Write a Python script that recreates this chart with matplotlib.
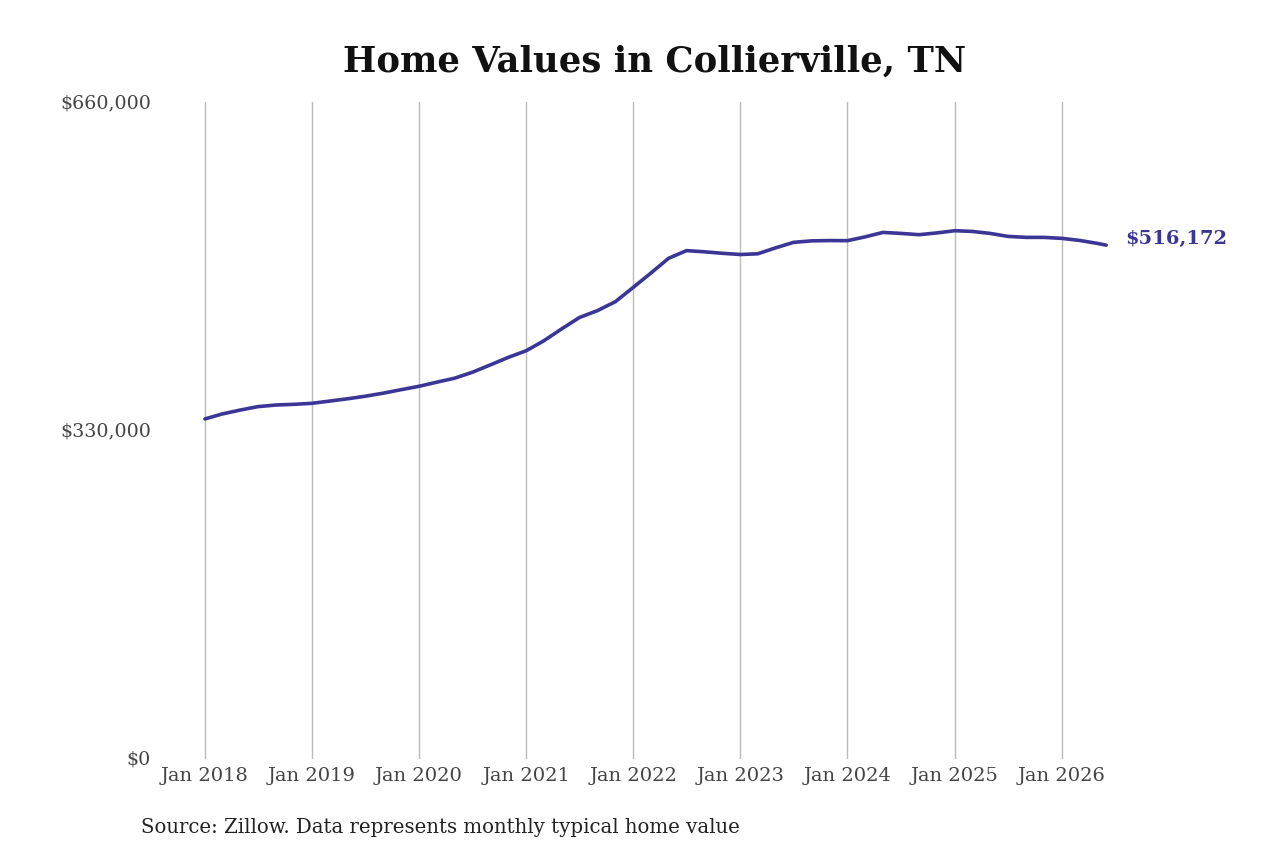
import pandas as pd
import matplotlib
matplotlib.use('Agg')
import matplotlib.pyplot as plt
import matplotlib.dates as mdates
from matplotlib.ticker import FuncFormatter

# values (roughly every two months)
dates = ['2018-01', '2018-03', '2018-05', '2018-07', '2018-09', '2018-11',
         '2019-01', '2019-03', '2019-05', '2019-07', '2019-09', '2019-11',
         '2020-01', '2020-03', '2020-05', '2020-07', '2020-09', '2020-11',
         '2021-01', '2021-03', '2021-05', '2021-07', '2021-09', '2021-11',
         '2022-01', '2022-03', '2022-05', '2022-07', '2022-09', '2022-11',
         '2023-01', '2023-03', '2023-05', '2023-07', '2023-09', '2023-11',
         '2024-01', '2024-03', '2024-05', '2024-07', '2024-09', '2024-11',
         '2025-01', '2025-03', '2025-05', '2025-07', '2025-09', '2025-11',
         '2026-01', '2026-03', '2026-05', '2026-06']
values = [341600, 346600, 350500, 354000, 355600, 356300,
          357300, 359500, 361800, 364400, 367500, 371000,
          374400, 378500, 382500, 388500, 396000, 403500,
          410200, 420000, 432000, 443500, 450500, 459500,
          473900, 488000, 503000, 510700, 509500, 508000,
          506800, 507500, 513500, 519000, 520500, 520800,
          520700, 524500, 529000, 528000, 526700, 528500,
          530700, 530000, 528000, 525000, 524000, 524000,
          523000, 521000, 518000, 516172]
tick_years = [2018, 2019, 2020, 2021, 2022, 2023, 2024, 2025, 2026]
y_ticks = [0, 330000, 660000]

line_color = '#3b3596'
x = pd.to_datetime(dates)

plt.rcParams['font.family'] = ['DejaVu Serif']

fig = plt.figure(figsize=(12.8, 8.53), dpi=100)
ax = fig.add_axes([160 / 1280, 93 / 853, 950 / 1280, 657 / 853])

ax.plot(x, values, color=line_color, linewidth=2.6,
        solid_capstyle='round', solid_joinstyle='round')

ax.set_ylim(0, 660000)
ax.set_xlim(pd.Timestamp('2018-01-01') - pd.Timedelta(days=153),
            pd.Timestamp('2026-01-01') + pd.Timedelta(days=164))

ax.set_yticks(y_ticks)
ax.yaxis.set_major_formatter(FuncFormatter(lambda v, p: '${:,.0f}'.format(v)))
ax.set_xticks([pd.Timestamp(f'{y}-01-01') for y in tick_years])
ax.xaxis.set_major_formatter(mdates.DateFormatter('Jan %Y'))

ax.grid(axis='x', color='#bbbbbb', linewidth=1)
ax.set_axisbelow(True)
for s in ax.spines.values():
    s.set_visible(False)
ax.tick_params(axis='both', length=0, labelsize=14, labelcolor='#444444')
ax.tick_params(axis='y', pad=6.5, labelsize=13.7)
ax.tick_params(axis='x', pad=5)
for lbl in ax.get_yticklabels():
    lbl.set_verticalalignment('center')

ax.annotate('${:,.0f}'.format(values[-1]), xy=(x[-1], values[-1]),
            xytext=(14, 5), textcoords='offset points', va='center',
            ha='left', fontsize=14, fontweight='bold', color=line_color)

fig.text(655 / 1280, 1 - 62 / 853, 'Home Values in Collierville, TN',
         ha='center', va='center', fontsize=25.5, fontweight='bold',
         color='#111111')
fig.text(141 / 1280, 1 - 828 / 853,
         'Source: Zillow. Data represents monthly typical home value',
         ha='left', va='center', fontsize=14.2, color='#222222')

fig.savefig('out.png', dpi=100, facecolor='white')
